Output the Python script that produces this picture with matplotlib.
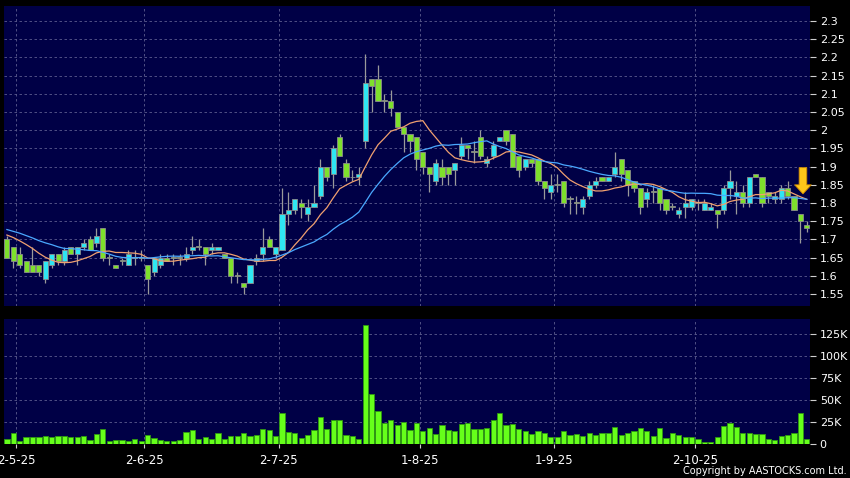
import numpy as np
import matplotlib
matplotlib.use("Agg")
import matplotlib.pyplot as plt
from matplotlib.ticker import FixedLocator, FuncFormatter

# daily bars, 29-4-25 .. 28-10-25 (126 trading days)
open_ = [1.70, 1.68, 1.66, 1.64, 1.63, 1.63, 1.59, 1.63, 1.66, 1.64,
         1.68, 1.66, 1.68, 1.70, 1.69, 1.73, 1.65, 1.63, 1.64, 1.63,
         1.65, 1.65, 1.63, 1.61, 1.63, 1.65, 1.65, 1.65, 1.65, 1.67,
         1.68, 1.68, 1.67, 1.67, 1.66, 1.65, 1.60, 1.58, 1.58, 1.64,
         1.66, 1.70, 1.66, 1.67, 1.77, 1.78, 1.80, 1.77, 1.79, 1.82,
         1.90, 1.88, 1.98, 1.91, 1.87, 1.87, 1.97, 2.14, 2.14, 2.08,
         2.08, 2.05, 2.01, 1.99, 1.98, 1.94, 1.90, 1.86, 1.90, 1.90,
         1.89, 1.93, 1.96, 1.94, 1.98, 1.91, 1.93, 1.97, 2.00, 1.99,
         1.93, 1.90, 1.92, 1.92, 1.86, 1.83, 1.85, 1.86, 1.81, 1.80,
         1.79, 1.82, 1.85, 1.87, 1.86, 1.88, 1.92, 1.89, 1.86, 1.84,
         1.81, 1.83, 1.84, 1.81, 1.79, 1.77, 1.79, 1.79, 1.80, 1.78,
         1.78, 1.78, 1.78, 1.84, 1.82, 1.83, 1.80, 1.88, 1.87, 1.83,
         1.81, 1.81, 1.84, 1.82, 1.77, 1.74]
high = [1.71, 1.68, 1.68, 1.64, 1.68, 1.63, 1.64, 1.66, 1.66, 1.68,
        1.68, 1.68, 1.70, 1.71, 1.73, 1.73, 1.66, 1.63, 1.65, 1.67,
        1.67, 1.67, 1.63, 1.65, 1.66, 1.66, 1.66, 1.66, 1.68, 1.71,
        1.70, 1.68, 1.69, 1.68, 1.66, 1.65, 1.61, 1.58, 1.63, 1.66,
        1.73, 1.71, 1.68, 1.84, 1.83, 1.81, 1.81, 1.81, 1.85, 1.92,
        1.90, 1.96, 1.99, 1.92, 1.89, 1.90, 2.21, 2.14, 2.18, 2.10,
        2.11, 2.05, 2.01, 1.99, 1.98, 1.94, 1.90, 1.92, 1.92, 1.90,
        1.91, 1.98, 1.96, 1.97, 2.00, 1.93, 1.97, 1.98, 2.00, 1.99,
        1.93, 1.92, 1.92, 1.92, 1.86, 1.88, 1.88, 1.86, 1.82, 1.82,
        1.82, 1.86, 1.87, 1.87, 1.87, 1.94, 1.92, 1.89, 1.86, 1.84,
        1.84, 1.85, 1.84, 1.81, 1.80, 1.79, 1.83, 1.81, 1.81, 1.81,
        1.80, 1.78, 1.85, 1.89, 1.86, 1.85, 1.87, 1.88, 1.87, 1.83,
        1.83, 1.85, 1.86, 1.82, 1.77, 1.75]
low = [1.65, 1.62, 1.62, 1.61, 1.61, 1.60, 1.58, 1.62, 1.63, 1.63,
       1.66, 1.63, 1.67, 1.67, 1.68, 1.64, 1.63, 1.62, 1.63, 1.63,
       1.63, 1.64, 1.55, 1.60, 1.62, 1.64, 1.63, 1.63, 1.64, 1.66,
       1.67, 1.63, 1.66, 1.67, 1.65, 1.58, 1.58, 1.55, 1.58, 1.63,
       1.64, 1.68, 1.65, 1.67, 1.74, 1.77, 1.76, 1.75, 1.79, 1.81,
       1.86, 1.84, 1.93, 1.86, 1.86, 1.85, 1.95, 2.05, 2.08, 2.05,
       2.04, 2.01, 1.94, 1.94, 1.89, 1.88, 1.83, 1.85, 1.85, 1.85,
       1.85, 1.92, 1.92, 1.91, 1.92, 1.90, 1.92, 1.97, 1.96, 1.90,
       1.87, 1.89, 1.90, 1.85, 1.81, 1.81, 1.83, 1.79, 1.77, 1.77,
       1.77, 1.81, 1.84, 1.86, 1.86, 1.87, 1.86, 1.82, 1.83, 1.77,
       1.79, 1.80, 1.78, 1.77, 1.78, 1.76, 1.76, 1.78, 1.78, 1.78,
       1.78, 1.73, 1.77, 1.81, 1.77, 1.79, 1.79, 1.87, 1.79, 1.80,
       1.80, 1.80, 1.81, 1.78, 1.69, 1.72]
close = [1.65, 1.64, 1.63, 1.61, 1.61, 1.61, 1.64, 1.66, 1.64, 1.67,
         1.66, 1.68, 1.69, 1.67, 1.71, 1.65, 1.65, 1.62, 1.64, 1.66,
         1.65, 1.65, 1.59, 1.65, 1.65, 1.64, 1.65, 1.65, 1.66, 1.68,
         1.68, 1.66, 1.68, 1.68, 1.65, 1.60, 1.60, 1.57, 1.63, 1.65,
         1.68, 1.68, 1.68, 1.77, 1.78, 1.81, 1.79, 1.79, 1.80, 1.90,
         1.87, 1.95, 1.93, 1.87, 1.87, 1.88, 2.13, 2.12, 2.08, 2.08,
         2.06, 2.01, 1.99, 1.97, 1.92, 1.90, 1.88, 1.91, 1.87, 1.88,
         1.91, 1.96, 1.95, 1.94, 1.93, 1.92, 1.96, 1.98, 1.97, 1.90,
         1.89, 1.92, 1.91, 1.86, 1.84, 1.85, 1.85, 1.80, 1.81, 1.80,
         1.81, 1.85, 1.86, 1.86, 1.87, 1.90, 1.88, 1.85, 1.84, 1.79,
         1.83, 1.83, 1.80, 1.78, 1.79, 1.78, 1.80, 1.81, 1.80, 1.80,
         1.79, 1.77, 1.84, 1.86, 1.83, 1.80, 1.87, 1.87, 1.80, 1.82,
         1.82, 1.84, 1.82, 1.78, 1.75, 1.73]
volume = [5700, 12200, 3800, 8000, 8000, 7600, 8800, 8000, 9600, 9200,
          8400, 7600, 9200, 4200, 11900, 17200, 3800, 5000, 5000, 3000,
          6100, 3000, 10700, 7300, 4600, 3400, 3400, 4600, 13800, 16100,
          5700, 7600, 6100, 12600, 5400, 9600, 9600, 12200, 9600, 10300,
          17200, 15700, 9600, 35900, 14100, 13000, 6500, 10300, 16400, 31000,
          16800, 26800, 26800, 10300, 9600, 5700, 135700, 57000, 37800, 24500,
          26800, 22200, 25600, 16400, 24500, 15300, 18000, 11900, 21800, 16000,
          15300, 22900, 23700, 16800, 17200, 18700, 27900, 35600, 22200, 22600,
          17200, 15300, 11900, 15300, 12600, 8000, 8000, 15300, 10300, 11900,
          8800, 12200, 10300, 12600, 12600, 19500, 10700, 13000, 14900, 18700,
          15300, 9600, 18300, 7300, 12200, 10700, 8400, 8000, 5700, 2700,
          2700, 8400, 21000, 23700, 19100, 13000, 13000, 11100, 11100, 6100,
          5000, 9200, 9900, 13000, 35600, 6100]

# closes before the window, guessed from where the two averages start
prior_close = [1.74, 1.73, 1.74, 1.74, 1.76, 1.76, 1.76, 1.76, 1.76, 1.67,
               1.71, 1.72, 1.71, 1.72, 1.74, 1.75, 1.74, 1.70, 1.68]

month_labels = ["2-5-25", "2-6-25", "2-7-25", "1-8-25", "1-9-25", "2-10-25"]
month_start = [2, 22, 43, 65, 86, 108]   # bar index of first day shown
price_ticks = [1.55, 1.6, 1.65, 1.7, 1.75, 1.8, 1.85, 1.9, 1.95, 2.0,
               2.05, 2.1, 2.15, 2.2, 2.25, 2.3]
vol_ticks = [0, 25000, 50000, 75000, 100000, 125000]

BG = "#000046"
GRID = "#5d5d8e"
UP = "#2fe6f2"
DOWN = "#7ee02c"
VOL = "#66ff1a"


def sma(values, n):
    arr = np.asarray(values, dtype=float)
    return np.convolve(arr, np.ones(n) / n, mode="valid")


def style_axis(ax):
    ax.set_facecolor(BG)
    for s in ax.spines.values():
        s.set_visible(False)
    ax.yaxis.tick_right()
    ax.tick_params(axis="y", colors="#cfcfcf", labelcolor="white",
                   labelsize=8, length=4, width=0.8, pad=3)
    ax.set_xlim(-0.45, len(close) - 0.5)
    ax.xaxis.set_major_locator(FixedLocator([m - 0.5 for m in month_start]))
    ax.grid(True, color=GRID, linestyle=(0, (3, 3)), linewidth=0.6)
    ax.set_axisbelow(True)


x = np.arange(len(close))
o = np.array(open_)
c = np.array(close)
full = prior_close + close
ma10 = sma(full, 10)[-len(close):]
ma20 = sma(full, 20)[-len(close):]

fig = plt.figure(figsize=(8.5, 4.78), dpi=100, facecolor="black")
ax = fig.add_axes([4 / 850, 1 - 306 / 478, 806 / 850, 300 / 478])
axv = fig.add_axes([4 / 850, 1 - 444 / 478, 806 / 850, 125 / 478])

# price panel
style_axis(ax)
ax.set_ylim(1.517, 2.341)
ax.yaxis.set_major_locator(FixedLocator(price_ticks))
ax.yaxis.set_major_formatter(FuncFormatter(lambda v, p: "%g" % round(v, 2)))
ax.tick_params(axis="x", length=0, labelbottom=False)

ax.vlines(x, low, high, color="#9a9a9a", linewidth=0.9, zorder=2)
colors = [UP if cc > oo else DOWN for oo, cc in zip(o, c)]
bottoms = np.minimum(o, c)
heights = np.maximum(np.abs(c - o), 0.0025)
ax.bar(x, heights, bottom=bottoms, width=0.8, color=colors,
       edgecolor="#8c8c8c", linewidth=0.6, zorder=3)

ax.plot(x, ma10, color="#f0a070", linewidth=0.9, zorder=4)
ax.plot(x, ma20, color="#4aa8ff", linewidth=0.9, zorder=4)

# yellow marker arrow above the last bars
tip = ma10[-2] + 0.008
ax.annotate("", xy=(len(close) - 1.6, tip), xytext=(len(close) - 1.6, tip + 0.072),
            arrowprops=dict(arrowstyle="simple,head_width=1.2,head_length=0.65,tail_width=0.55",
                            fc="#ffc61a", ec="#d08a00", lw=0.6, shrinkA=0, shrinkB=0),
            zorder=5)

# volume panel
style_axis(axv)
axv.set_ylim(0, 142500)
axv.yaxis.set_major_locator(FixedLocator(vol_ticks))
axv.yaxis.set_major_formatter(FuncFormatter(lambda v, p: "0" if v == 0 else "%dK" % (v / 1000)))
axv.bar(x, volume, width=0.82, color=VOL, edgecolor="#2f9a10", linewidth=0.6, zorder=3)
axv.set_xticklabels(month_labels)
axv.tick_params(axis="x", colors="#cfcfcf", labelcolor="white", labelsize=8.5,
                length=3, width=0.8, pad=4)

fig.text(0.996, 0.004, "Copyright by AASTOCKS.com Ltd.", ha="right", va="bottom",
         color="white", fontsize=7)

fig.savefig("out.png", dpi=100, facecolor="black")
